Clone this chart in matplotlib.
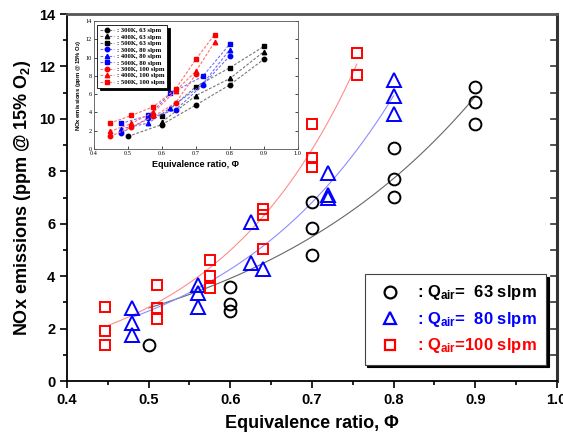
import numpy as np
import matplotlib
matplotlib.use("Agg")
import matplotlib.pyplot as plt
from matplotlib.lines import Line2D

plt.rcParams['font.family'] = ['Liberation Sans', 'DejaVu Sans']
plt.rcParams['mathtext.fontset'] = 'custom'
plt.rcParams['mathtext.rm'] = 'Liberation Sans:bold'
plt.rcParams['mathtext.bf'] = 'Liberation Sans:bold'
plt.rcParams['mathtext.it'] = 'Liberation Sans:bold'

# ---- data: 63 slpm (black circles) ----
x63_300 = [0.5, 0.6, 0.7, 0.8, 0.9]
y63_300 = [1.37, 2.67, 4.81, 7.02, 9.81]
x63_400 = [0.6, 0.7, 0.8, 0.9]
y63_400 = [2.94, 5.84, 7.71, 10.65]
x63_500 = [0.6, 0.7, 0.8, 0.9]
y63_500 = [3.59, 6.83, 8.89, 11.22]

# ---- data: 80 slpm (blue triangles) ----
x80_300 = [0.48, 0.56, 0.64, 0.72, 0.8]
y80_300 = [1.76, 3.36, 4.27, 7.0, 10.19]
x80_400 = [0.48, 0.56, 0.625, 0.72, 0.8]
y80_400 = [2.21, 2.82, 4.5, 7.1, 10.88]
x80_500 = [0.48, 0.56, 0.625, 0.72, 0.8]
y80_500 = [2.79, 3.66, 6.07, 7.94, 11.49]

# ---- data: 100 slpm (red squares) ----
x100_300 = [0.447, 0.51, 0.575, 0.64, 0.70]
y100_300 = [1.37, 2.37, 3.55, 5.04, 8.17]
x100_400 = [0.447, 0.51, 0.575, 0.64, 0.70, 0.755]
y100_400 = [1.91, 2.79, 4.01, 6.34, 8.51, 11.68]
x100_500 = [0.447, 0.51, 0.575, 0.64, 0.70, 0.755]
y100_500 = [2.82, 3.66, 4.62, 6.56, 9.81, 12.52]

x_ticks = [0.4, 0.5, 0.6, 0.7, 0.8, 0.9, 1.0]
y_ticks = [0, 2, 4, 6, 8, 10, 12, 14]
temps = ['300K', '400K', '500K']
flows = ['63', '80', '100']

groups = [
    ([x63_300, x63_400, x63_500], [y63_300, y63_400, y63_500], 'black', '#666666', 'o'),
    ([x80_300, x80_400, x80_500], [y80_300, y80_400, y80_500], '#0000ff', '#8c8cff', '^'),
    ([x100_300, x100_400, x100_500], [y100_300, y100_400, y100_500], '#ff0000', '#ff8c8c', 's'),
]

fig = plt.figure(figsize=(5.63, 4.38), dpi=100)
ax = fig.add_axes([0.119, 0.130, 0.870, 0.838])

msizes = {'o': 8.5, '^': 9.5, 's': 7.5}
for xs, ys, col, fitcol, mk in groups:
    xa = np.concatenate([np.array(v) for v in xs])
    ya = np.concatenate([np.array(v) for v in ys])
    ax.plot(xa, ya, linestyle='none', marker=mk, markersize=msizes[mk],
            markerfacecolor='none', markeredgecolor=col, markeredgewidth=1.4, zorder=3)
    b, a = np.polyfit(xa, np.log(ya), 1, w=ya)
    xf = np.linspace(xa.min(), xa.max(), 100)
    ax.plot(xf, np.exp(a + b * xf), color=fitcol, lw=0.8, zorder=2)

ax.set_xlim(0.4, 1.0)
ax.set_ylim(0, 14)
ax.set_xticks(x_ticks)
ax.set_yticks(y_ticks)
ax.set_xticks(np.arange(0.45, 1.0, 0.1), minor=True)
ax.set_yticks(np.arange(1, 14, 2), minor=True)
ax.tick_params(which='both', direction='out', top=False, right=False, width=1.2)
ax.tick_params(which='major', length=5, labelsize=10.5)
ax.tick_params(which='minor', length=3)
for lab in ax.get_xticklabels() + ax.get_yticklabels():
    lab.set_fontweight('bold')
for s in ax.spines.values():
    s.set_linewidth(1.3)
ax.spines['right'].set_linewidth(2.2)
ax.spines['right'].set_color('#333333')
ax.spines['top'].set_color('#555555')
ax.spines['top'].set_linewidth(2.0)
# inward ticks on right spine
for yt in np.arange(1, 14, 1):
    ax.plot([0.988, 1.0], [yt, yt], transform=ax.get_yaxis_transform(), color='#333333', lw=1.2, clip_on=False)

ax.set_xlabel('Equivalence ratio, \u03a6', fontsize=13, fontweight='bold', labelpad=6)
ax.set_ylabel('NOx emissions (ppm @ 15% O$_2$)', fontsize=13, fontweight='bold', labelpad=4)

handles = [
    Line2D([], [], linestyle='none', marker='o', markersize=8.5, markerfacecolor='none', markeredgecolor='black', markeredgewidth=1.6),
    Line2D([], [], linestyle='none', marker='^', markersize=9, markerfacecolor='none', markeredgecolor='#0000ff', markeredgewidth=1.6),
    Line2D([], [], linestyle='none', marker='s', markersize=7, markerfacecolor='none', markeredgecolor='#ff0000', markeredgewidth=1.6),
]
labels = [r': Q$_{air}$=  63 slpm', r': Q$_{air}$=  80 slpm', r': Q$_{air}$=100 slpm']
leg = ax.legend(handles, labels, loc='lower right', bbox_to_anchor=(0.978, 0.045),
                prop={'weight': 'bold', 'size': 12}, frameon=True, fancybox=False,
                shadow={'color': 'black', 'alpha': 1.0}, handletextpad=0.7, borderpad=0.55,
                labelspacing=0.45, handlelength=1.9, borderaxespad=0)
leg.get_frame().set_edgecolor('#444444')
leg.get_frame().set_linewidth(0.8)
for t, c in zip(leg.get_texts(), ['black', '#0000ff', '#ff0000']):
    t.set_color(c)

# ---- inset ----
ins = fig.add_axes([0.167, 0.660, 0.362, 0.292])
inset_marks = ['o', '^', 's']
dash_cols = ['#777777', '#6f6fff', '#ff7070']
ihandles, ilabels = [], []
for gi, (xs, ys, col, fitcol, mk) in enumerate(groups):
    for ti in range(3):
        ln, = ins.plot(xs[ti], ys[ti], linestyle=(0, (2.5, 1.5)), color=dash_cols[gi], lw=0.8,
                       marker=inset_marks[ti], markersize=3.2, markerfacecolor=col,
                       markeredgecolor=col)
        ihandles.append(ln)
        ilabels.append(': %s, %s slpm' % (temps[ti], flows[gi]))
ins.set_xlim(0.4, 1.0)
ins.set_ylim(0, 14)
ins.set_xticks(x_ticks)
ins.set_yticks(y_ticks)
ins.tick_params(labelsize=4.5, length=2, width=0.5, direction='in', right=True, top=False, pad=1.5)
for lab in ins.get_xticklabels() + ins.get_yticklabels():
    lab.set_family(['Liberation Serif', 'DejaVu Serif'])
for s in ins.spines.values():
    s.set_linewidth(0.6)
    s.set_color('#555555')
ins.set_xlabel('Equivalence ratio, \u03a6', fontsize=6.5, fontweight='bold', labelpad=3)
ins.set_ylabel('NOx emissions (ppm @ 15% O$_2$)', fontsize=4.2, fontweight='bold', labelpad=2)
ileg = ins.legend(ihandles, ilabels, loc='upper left', bbox_to_anchor=(0.015, 0.97),
                  prop={'family': ['Liberation Serif', 'DejaVu Serif'], 'size': 4.8, 'weight': 'bold'},
                  frameon=True, fancybox=False, shadow={'color': 'black', 'alpha': 1.0},
                  handlelength=2.2, labelspacing=0.12, borderpad=0.4, handletextpad=0.4,
                  borderaxespad=0)
ileg.get_frame().set_edgecolor('black')
ileg.get_frame().set_linewidth(0.6)

fig.savefig('out.png', dpi=100)
